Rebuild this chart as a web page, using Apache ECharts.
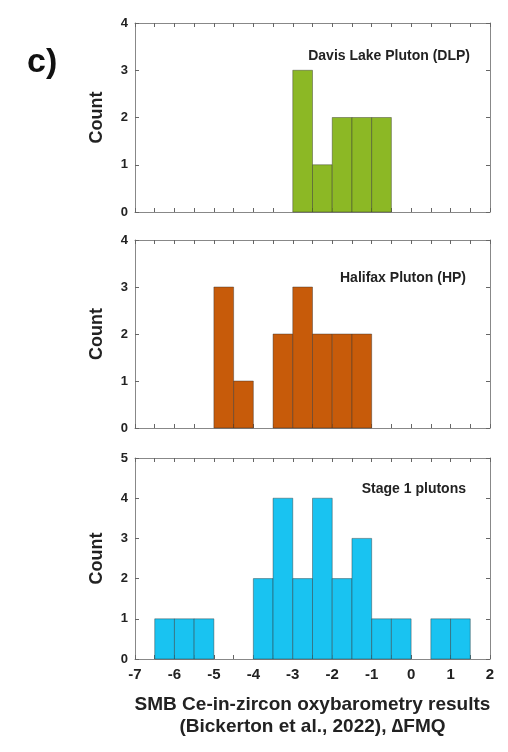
<!DOCTYPE html>
<html><head><meta charset="utf-8">
<script src="https://cdn.jsdelivr.net/npm/echarts@6/dist/echarts.min.js"></script>
<style>html,body{margin:0;padding:0;background:#fff}#c{width:508px;height:752px}</style>
</head><body><div id="c"></div>
<script>
// Histogram data (bin lower edges, bin width 0.5) and counts
var binWidth = 0.5;
var dlpEdges  = [-3, -2.5, -2, -1.5, -1];
var dlpCounts = [3, 1, 2, 2, 2];
var hpEdges   = [-5, -4.5, -3.5, -3, -2.5, -2, -1.5];
var hpCounts  = [3, 1, 2, 3, 2, 2, 2];
var s1Edges   = [-6.5, -6, -5.5, -4, -3.5, -3, -2.5, -2, -1.5, -1, -0.5, 0.5, 1];
var s1Counts  = [1, 1, 1, 2, 4, 2, 4, 2, 3, 1, 1, 1, 1];
var panelNames = ['Davis Lake Pluton (DLP)', 'Halifax Pluton (HP)', 'Stage 1 plutons'];
var yMaxes = [4, 4, 5];
var xTickLabels = ['-7','-6','-5','-4','-3','-2','-1','0','1','2'];

var colors = ['#8cb825', '#c75b0a', '#19c3f1'];
var font = 'Liberation Sans, Arial, sans-serif';
var grids = [
  {left:135, top:23, width:355, height:189},
  {left:135, top:240, width:355, height:188},
  {left:135, top:458, width:355, height:201}
];
function toData(edges, counts){
  return edges.map(function(e,i){ return [e, e + binWidth, counts[i]]; });
}
var datas = [toData(dlpEdges, dlpCounts), toData(hpEdges, hpCounts), toData(s1Edges, s1Counts)];

var xAxes = [], yAxes = [], series = [], titles = [];
grids.forEach(function(g, i){
  var last = (i === 2);
  ['bottom','top'].forEach(function(pos){
    xAxes.push({
      type:'value', gridIndex:i, position:pos, min:-7, max:2, interval:0.5,
      axisLine:{show:true, onZero:false, lineStyle:{color:'#888', width:1}},
      axisTick:{show:true, inside:true, length:4, lineStyle:{color:'#666'}},
      splitLine:{show:false},
      axisLabel:{show: last && pos==='bottom', margin:8, color:'#222', fontFamily:font, fontWeight:'bold', fontSize:15,
        formatter:function(v){ var k = Math.round(v+7); return (Math.abs(v - Math.round(v))<1e-6) ? xTickLabels[k] : ''; }},
      name: (last && pos==='bottom') ? 'SMB Ce-in-zircon oxybarometry results\n(Bickerton et al., 2022), \u2206FMQ' : '',
      nameLocation:'middle', nameGap:35,
      nameTextStyle:{color:'#222', fontFamily:font, fontWeight:'bold', fontSize:19, lineHeight:22}
    });
  });
  ['left','right'].forEach(function(pos){
    yAxes.push({
      type:'value', gridIndex:i, position:pos, min:0, max:yMaxes[i], interval:1,
      axisLine:{show:true, onZero:false, lineStyle:{color:'#888', width:1}},
      axisTick:{show:true, inside:true, length:4, lineStyle:{color:'#666'}},
      splitLine:{show:false},
      axisLabel:{show: pos==='left', margin:7, color:'#222', fontFamily:font, fontWeight:'bold', fontSize:13},
      name: pos==='left' ? 'Count' : '', nameLocation:'middle', nameGap:29,
      nameTextStyle:{color:'#222', fontFamily:font, fontWeight:'bold', fontSize:18}
    });
  });
  (function(col){
    series.push({
      type:'custom', xAxisIndex:i*2, yAxisIndex:i*2, data:datas[i],
      encode:{x:[0,1], y:2},
      renderItem:function(params, api){
        var p0 = api.coord([api.value(0), api.value(2)]);
        var p1 = api.coord([api.value(1), 0]);
        return {type:'rect', shape:{x:p0[0], y:p0[1], width:p1[0]-p0[0], height:p1[1]-p0[1]},
          style:{fill:col, stroke:'rgba(40,40,40,0.5)', lineWidth:0.8}};
      }
    });
  })(colors[i]);
});
titles.push({text:'c)', left:22, top:41, textStyle:{fontFamily:font, fontWeight:'bold', fontSize:34, color:'#111'}});
var labelTops = [44, 266, 477];
var labelRights = [33, 37, 37];
panelNames.forEach(function(n, i){
  titles.push({text:n, right:labelRights[i], top:labelTops[i], textStyle:{fontFamily:font, fontWeight:'bold', fontSize:14, color:'#222'}});
});

var chart = echarts.init(document.getElementById('c'), null, {renderer:'canvas'});
chart.setOption({
  animation:false,
  title:titles,
  grid:grids,
  xAxis:xAxes,
  yAxis:yAxes,
  series:series
});
</script></body></html>
